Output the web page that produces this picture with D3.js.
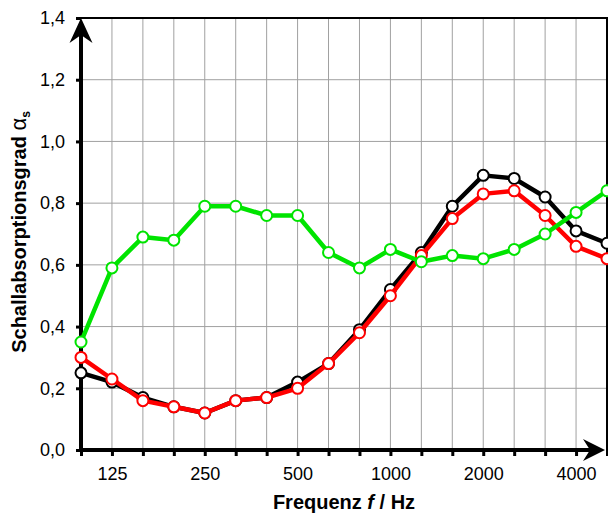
<!DOCTYPE html>
<html>
<head>
<meta charset="utf-8">
<script src="https://cdn.jsdelivr.net/npm/d3@7"></script>
<style>
  body { margin: 0; background: #fff; }
  svg { display: block; font-family: "Liberation Sans", Arial, sans-serif; }
</style>
</head>
<body>
<svg id="chart" width="608" height="515"></svg>
<script>
// terzbaender in Hz
var bands = [100, 125, 160, 200, 250, 315, 400, 500, 630, 800, 1000, 1250, 1600, 2000, 2500, 3150, 4000, 5000];
var xLabels = [125, 250, 500, 1000, 2000, 4000];
var yTicks = [0, 0.2, 0.4, 0.6, 0.8, 1.0, 1.2, 1.4];

var seriesBlack = [0.25, 0.22, 0.17, 0.14, 0.12, 0.16, 0.17, 0.22, 0.28, 0.39, 0.52, 0.64, 0.79, 0.89, 0.88, 0.82, 0.71, 0.67];
var seriesRed   = [0.30, 0.23, 0.16, 0.14, 0.12, 0.16, 0.17, 0.20, 0.28, 0.38, 0.50, 0.63, 0.75, 0.83, 0.84, 0.76, 0.66, 0.62];
var seriesGreen = [0.35, 0.59, 0.69, 0.68, 0.79, 0.79, 0.76, 0.76, 0.64, 0.59, 0.65, 0.61, 0.63, 0.62, 0.65, 0.70, 0.77, 0.84];

var svg = d3.select("#chart");
var pLeft = 81, pRight = 607, pTop = 18, pBottom = 450;

var x = d3.scalePoint().domain(bands).range([pLeft, pRight]);
var y = d3.scaleLinear().domain([0, 1.4]).range([pBottom, pTop]);

// gitter
var grid = svg.append("g");
grid.selectAll("line.v").data(bands.slice(1)).enter().append("line")
    .attr("x1", function(d) { return x(d); }).attr("x2", function(d) { return x(d); })
    .attr("y1", pTop).attr("y2", pBottom)
    .attr("stroke", "#a0a0a0").attr("stroke-width", 1);
grid.selectAll("line.h").data(yTicks.slice(1)).enter().append("line")
    .attr("x1", pLeft).attr("x2", pRight)
    .attr("y1", function(d) { return y(d); }).attr("y2", function(d) { return y(d); })
    .attr("stroke", "#a0a0a0").attr("stroke-width", 1);

// rahmen oben/rechts
svg.append("path")
    .attr("d", "M" + pLeft + "," + pTop + "H" + pRight + "V" + pBottom)
    .attr("fill", "none").attr("stroke", "#000").attr("stroke-width", 2);

// y achse
var yAxis = svg.append("g")
    .attr("transform", "translate(" + pLeft + ",0)")
    .call(d3.axisLeft(y).tickValues(yTicks).tickSize(5).tickPadding(11)
        .tickFormat(function(d) { return d3.format(".1f")(d).replace(".", ","); }));
yAxis.attr("font-size", 18).attr("font-family", "Liberation Sans, Arial, sans-serif");
yAxis.select(".domain").remove();
yAxis.selectAll(".tick line").attr("stroke", "#000").attr("stroke-width", 3);
yAxis.selectAll("text").attr("fill", "#000");

// x achse
var xAxis = svg.append("g")
    .attr("transform", "translate(0," + pBottom + ")")
    .call(d3.axisBottom(x).tickSize(6).tickPadding(11)
        .tickFormat(function(d) { return xLabels.indexOf(d) >= 0 ? d : ""; }));
xAxis.attr("font-size", 18).attr("font-family", "Liberation Sans, Arial, sans-serif");
xAxis.select(".domain").remove();
xAxis.selectAll(".tick line").attr("stroke", "#000").attr("stroke-width", 3);
xAxis.selectAll("text").attr("fill", "#000");

// achsenlinien mit pfeil
svg.append("line").attr("x1", pLeft).attr("x2", pLeft).attr("y1", pBottom + 2).attr("y2", pTop + 10)
    .attr("stroke", "#000").attr("stroke-width", 4);
svg.append("line").attr("x1", pLeft - 2).attr("x2", pRight - 12).attr("y1", pBottom).attr("y2", pBottom)
    .attr("stroke", "#000").attr("stroke-width", 4);
svg.append("path")
    .attr("d", "M" + pLeft + "," + pTop + "L" + (pLeft - 11.5) + "," + (pTop + 25) + "L" + pLeft + "," + (pTop + 17) +
        "L" + (pLeft + 11.5) + "," + (pTop + 25) + "Z")
    .attr("fill", "#000");
var tip = pRight - 2;
svg.append("path")
    .attr("d", "M" + tip + "," + pBottom + "L" + (tip - 22) + "," + (pBottom - 11) + "L" + (tip - 15) + "," + pBottom +
        "L" + (tip - 22) + "," + (pBottom + 11) + "Z")
    .attr("fill", "#000");

// achsentitel
svg.append("text")
    .attr("x", 344).attr("y", 509)
    .attr("text-anchor", "middle").attr("font-size", 20).attr("font-weight", "bold")
    .html('Frequenz <tspan font-style="italic">f</tspan> / Hz');

var yt = svg.append("text")
    .attr("transform", "translate(26,232) rotate(-90)")
    .attr("text-anchor", "middle").attr("font-size", 20).attr("font-weight", "bold");
yt.append("tspan").text("Schallabsorptionsgrad ");
yt.append("tspan").attr("font-weight", "normal").attr("font-size", 22).text("\u03b1");
yt.append("tspan").attr("font-size", 12).attr("dy", 4).text("s");

// kurven
var line = d3.line().x(function(d, i) { return x(bands[i]); }).y(function(d) { return y(d); });
var series = [
    { values: seriesBlack, color: "#000000" },
    { values: seriesRed, color: "#ff0000" },
    { values: seriesGreen, color: "#00e400" }
];
series.forEach(function(s) {
    svg.append("path").datum(s.values)
        .attr("d", line).attr("fill", "none")
        .attr("stroke", s.color).attr("stroke-width", 4.5).attr("stroke-linejoin", "round");
    svg.append("g").selectAll("circle").data(s.values).enter().append("circle")
        .attr("cx", function(d, i) { return x(bands[i]); })
        .attr("cy", function(d) { return y(d); })
        .attr("r", 5.5)
        .attr("fill", "#fff").attr("stroke", s.color).attr("stroke-width", 2);
});
</script>
</body>
</html>
